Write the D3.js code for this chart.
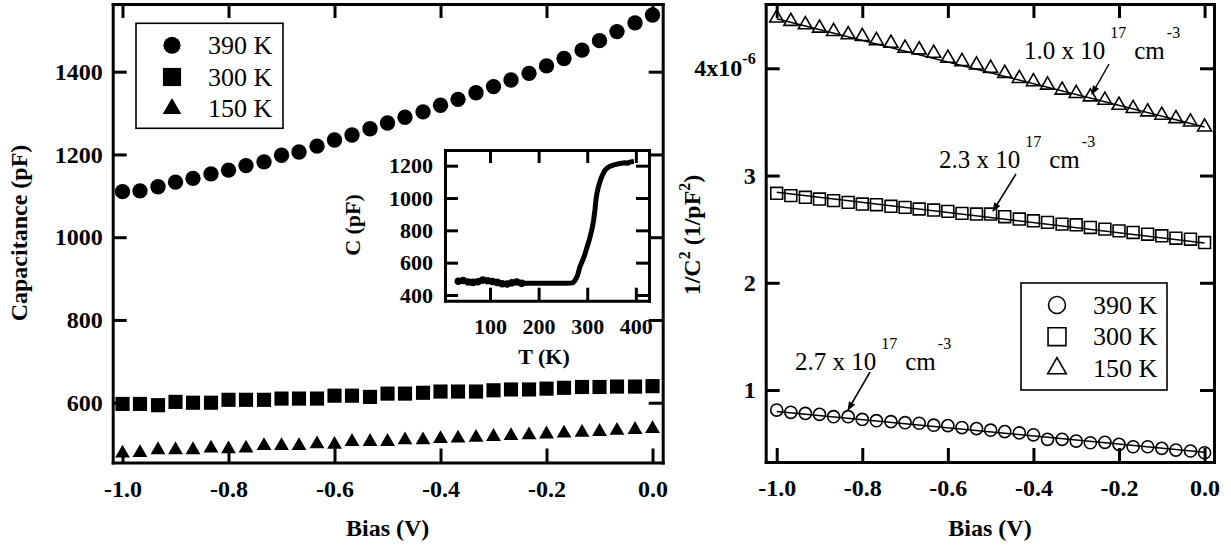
<!DOCTYPE html>
<html>
<head>
<meta charset="utf-8">
<script src="https://cdn.jsdelivr.net/npm/d3@7"></script>
<style>
  body { margin: 0; background: #fff; }
  svg, svg text { font-family: "Liberation Serif", "Times New Roman", serif; }
  .axis path, .axis line { stroke: #000; stroke-width: 3; }
  .axis path { stroke-linecap: square; }
</style>
</head>
<body>
<svg width="1231" height="546"></svg>
<script>
// bias points shared by every series (V)
const bias = [-1.000, -0.967, -0.933, -0.900, -0.867, -0.833, -0.800, -0.767, -0.733, -0.700,
              -0.667, -0.633, -0.600, -0.567, -0.533, -0.500, -0.467, -0.433, -0.400, -0.367,
              -0.333, -0.300, -0.267, -0.233, -0.200, -0.167, -0.133, -0.100, -0.067, -0.033, 0.000];

// capacitance (pF)
const cap390 = [1110, 1112, 1122, 1133, 1142, 1153, 1162, 1173, 1182, 1198,
                1206, 1220, 1235, 1247, 1262, 1276, 1290, 1303, 1319, 1333,
                1349, 1364, 1380, 1396, 1414, 1432, 1452, 1475, 1497, 1518, 1537];
const cap300 = [597, 597, 594, 602, 600, 600, 607, 607, 607, 610,
                610, 610, 617, 617, 614, 622, 622, 624, 627, 627,
                627, 630, 632, 632, 634, 636, 638, 638, 639, 639, 640];
const cap150 = [478, 479, 486, 486, 486, 490, 488, 490, 496, 496,
                496, 500, 499, 506, 506, 506, 510, 510, 513, 514,
                516, 518, 520, 522, 524, 526, 528, 530, 533, 535, 537];

// 1/C^2 (x10^-6 1/pF^2)
const inv390 = [0.813, 0.792, 0.782, 0.773, 0.751, 0.751, 0.726, 0.714, 0.705, 0.695,
                0.690, 0.672, 0.668, 0.650, 0.640, 0.625, 0.612, 0.600, 0.582, 0.540,
                0.540, 0.524, 0.508, 0.512, 0.493, 0.471, 0.471, 0.456, 0.440, 0.431, 0.415];
const inv300 = [2.834, 2.813, 2.797, 2.781, 2.766, 2.750, 2.734, 2.728, 2.713, 2.703,
                2.688, 2.678, 2.666, 2.647, 2.641, 2.641, 2.616, 2.594, 2.578, 2.563,
                2.547, 2.541, 2.516, 2.500, 2.484, 2.469, 2.453, 2.438, 2.416, 2.406, 2.375];
const inv150 = [4.469, 4.438, 4.406, 4.375, 4.344, 4.313, 4.297, 4.259, 4.234, 4.188,
                4.172, 4.141, 4.094, 4.063, 4.031, 4.000, 3.953, 3.906, 3.875, 3.844,
                3.797, 3.766, 3.734, 3.703, 3.656, 3.625, 3.594, 3.563, 3.531, 3.500, 3.453];

// linear fits: value at -1.0 V and at 0.0 V
const fitBias = [-1.0, 0.0];
const fit390 = [0.800, 0.420];
const fit300 = [2.845, 2.372];
const fit150 = [4.462, 3.452];

// inset C(T)
const insetT = [35, 45, 55, 65, 75, 85, 95, 105, 115, 125, 135, 145, 155, 165,
                180, 200, 220, 240, 260, 270, 275, 280, 285, 290, 295, 300, 305, 310,
                313, 316, 318, 320, 323, 327, 331, 336, 342, 348, 355, 362, 370, 378,
                383, 387, 392, 396];
const insetC = [485, 490, 480, 478, 482, 492, 488, 483, 478, 470, 468, 475, 480, 472,
                472, 472, 472, 472, 472, 475, 490, 520, 575, 610, 650, 700, 750, 810,
                860, 930, 990, 1030, 1070, 1110, 1140, 1170, 1188, 1198, 1205, 1210, 1215, 1218,
                1214, 1222, 1225, 1226];

const temps = ["390 K", "300 K", "150 K"];
const biasTicks = [-1.0, -0.8, -0.6, -0.4, -0.2, 0.0];
const capTicks = [600, 800, 1000, 1200, 1400];
const invTicks = [1, 2, 3, 4];
const tTicks = [100, 200, 300, 400];
const cTicks = [400, 600, 800, 1000, 1200];

const notes = [
  {text: "1.0 x 10", sup: "17", x: 1024, y: 59, from: [1109, 64], to: [1092, 94]},
  {text: "2.3 x 10", sup: "17", x: 939, y: 168, from: [1016, 174], to: [993, 211]},
  {text: "2.7 x 10", sup: "17", x: 795, y: 370, from: [870, 372], to: [848, 410]}
];

const serif = "'Liberation Serif', 'Times New Roman', serif";

const svg = d3.select("svg");
svg.append("rect").attr("width", 1231).attr("height", 546).attr("fill", "#fff");

const defs = svg.append("defs");
defs.append("marker")
    .attr("id", "arrow")
    .attr("viewBox", "0 0 10 10")
    .attr("refX", 9).attr("refY", 5)
    .attr("markerWidth", 10).attr("markerHeight", 9)
    .attr("markerUnits", "userSpaceOnUse")
    .attr("orient", "auto")
  .append("path")
    .attr("d", "M0,1 L10,5 L0,9 Z")
    .attr("fill", "#000");

const fmt1 = d => d.toFixed(1);

function styleAxis(g, fs) {
  g.attr("font-family", serif).attr("font-size", fs);
  g.selectAll("text")
      .style("font-family", serif)
      .style("font-weight", "bold")
      .style("font-size", fs + "px")
      .attr("fill", "#000");
  g.select(".domain").attr("fill", "none");
}

function frame(x, y, xt, yt, opts) {
  const tk = opts.tick || 14;
  const fs = opts.fontSize || 24;
  const [x0, x1] = x.range();
  const [y0, y1] = y.range();

  svg.append("g").attr("class", "axis")
      .attr("transform", `translate(0,${y0})`)
      .call(d3.axisBottom(x).tickValues(xt).tickSize(-tk).tickSizeOuter(0)
            .tickPadding(opts.xPad).tickFormat(opts.xFormat))
      .call(styleAxis, fs);
  svg.append("g").attr("class", "axis")
      .attr("transform", `translate(0,${y1})`)
      .call(d3.axisTop(x).tickValues(xt).tickSize(-tk).tickSizeOuter(0).tickFormat(""))
      .call(styleAxis, fs);
  const left = svg.append("g").attr("class", "axis")
      .attr("transform", `translate(${x0},0)`)
      .call(d3.axisLeft(y).tickValues(yt).tickSize(-tk).tickSizeOuter(0)
            .tickPadding(opts.yPad).tickFormat(opts.yFormat))
      .call(styleAxis, fs);
  svg.append("g").attr("class", "axis")
      .attr("transform", `translate(${x1},0)`)
      .call(d3.axisRight(y).tickValues(yt).tickSize(-tk).tickSizeOuter(0).tickFormat(""))
      .call(styleAxis, fs);
  return left;
}

function scatter(x, y, xs, ys, sym, size, filled) {
  const g = svg.append("g");
  g.selectAll("path")
    .data(xs.map((v, i) => [v, ys[i]]))
    .join("path")
      .attr("transform", d => `translate(${x(d[0])},${y(d[1])})`)
      .attr("d", d3.symbol(sym, size))
      .attr("fill", filled ? "#000" : "none")
      .attr("stroke", filled ? "none" : "#000")
      .attr("stroke-width", 1.6);
}

function legend(bx, by, bw, bh, rows, syms, filled) {
  svg.append("rect")
      .attr("x", bx).attr("y", by).attr("width", bw).attr("height", bh)
      .attr("fill", "#fff").attr("stroke", "#000").attr("stroke-width", 1.6);
  rows.forEach((r, i) => {
    const cy = by + 22 + i * 31.7;
    svg.append("path")
        .attr("transform", `translate(${bx + 36},${cy})`)
        .attr("d", d3.symbol(syms[i][0], syms[i][1]))
        .attr("fill", filled ? "#000" : "none")
        .attr("stroke", filled ? "none" : "#000")
        .attr("stroke-width", 1.6);
    svg.append("text")
        .attr("x", bx + 72).attr("y", cy + 8.5)
        .attr("font-size", 26)
        .text(r);
  });
}

// ---------- left panel ----------
const xL = d3.scaleLinear().domain([-1.0185, 0.0192]).range([112.7, 662.7]);
const yL = d3.scaleLinear().domain([455.5, 1563.6]).range([462.5, 4]);

scatter(xL, yL, bias, cap150, d3.symbolTriangle, 95, true);
scatter(xL, yL, bias, cap300, d3.symbolSquare, 200, true);
scatter(xL, yL, bias, cap390, d3.symbolCircle, 185, true);

frame(xL, yL, biasTicks, capTicks, {xPad: 17, yPad: 10, xFormat: fmt1, yFormat: d3.format("d")});

legend(136, 23.3, 147, 105, temps,
       [[d3.symbolCircle, 230], [d3.symbolSquare, 330], [d3.symbolTriangle, 150]], true);

svg.append("text")
    .attr("x", 387.7).attr("y", 536)
    .attr("text-anchor", "middle").attr("font-size", 24).attr("font-weight", "bold")
    .text("Bias (V)");
svg.append("text")
    .attr("transform", "translate(27,233) rotate(-90)")
    .attr("text-anchor", "middle").attr("font-size", 24).attr("font-weight", "bold")
    .text("Capacitance (pF)");

// ---------- inset ----------
const xI = d3.scaleLinear().domain([7.5, 427]).range([445, 649]);
const yI = d3.scaleLinear().domain([364.7, 1297]).range([300.7, 150]);

svg.append("rect").attr("x", 445).attr("y", 150).attr("width", 204).attr("height", 150.7)
    .attr("fill", "#fff");
svg.append("path")
    .datum(insetT.map((t, i) => [t, insetC[i]]))
    .attr("fill", "none").attr("stroke", "#000").attr("stroke-width", 5)
    .attr("stroke-linejoin", "round")
    .attr("d", d3.line().x(d => xI(d[0])).y(d => yI(d[1])));
scatter(xI, yI, insetT.slice(0, 14), insetC.slice(0, 14), d3.symbolCircle, 45, true);

frame(xI, yI, tTicks, cTicks, {xPad: 18, yPad: 12, fontSize: 22, tick: 13,
      xFormat: d3.format("d"), yFormat: d3.format("d")});

svg.append("text")
    .attr("x", 544).attr("y", 364)
    .attr("text-anchor", "middle").attr("font-size", 22).attr("font-weight", "bold")
    .text("T (K)");
svg.append("text")
    .attr("transform", "translate(360,225) rotate(-90)")
    .attr("text-anchor", "middle").attr("font-size", 22).attr("font-weight", "bold")
    .text("C (pF)");

// ---------- right panel ----------
const xR = d3.scaleLinear().domain([-1.0257, 0.022]).range([765.7, 1214]);
const yR = d3.scaleLinear().domain([0.3286, 4.5997]).range([462, 4]);

const fitLine = d3.line().x(d => xR(d[0])).y(d => yR(d[1]));
[fit390, fit300, fit150].forEach(f => {
  svg.append("path")
      .datum(fitBias.map((b, i) => [b, f[i]]))
      .attr("fill", "none").attr("stroke", "#000").attr("stroke-width", 1.5)
      .attr("d", fitLine);
});

scatter(xR, yR, bias, inv390, d3.symbolCircle, 115, false);
scatter(xR, yR, bias, inv300, d3.symbolSquare, 140, false);
scatter(xR, yR, bias, inv150, d3.symbolTriangle, 85, false);

const leftR = frame(xR, yR, biasTicks, invTicks, {xPad: 17, yPad: 10, xFormat: fmt1, yFormat: d3.format("d")});
leftR.selectAll(".tick text").filter(d => d === 4)
    .text(null)
    .call(t => {
      t.append("tspan").text("4x10");
      t.append("tspan").style("font-size", "16px").attr("dy", "-0.75em").text("-6");
    });

legend(1021, 283, 146, 107, temps,
       [[d3.symbolCircle, 225], [d3.symbolSquare, 320], [d3.symbolTriangle, 150]], false);

svg.append("text")
    .attr("x", 990).attr("y", 536)
    .attr("text-anchor", "middle").attr("font-size", 24).attr("font-weight", "bold")
    .text("Bias (V)");
const yLab = svg.append("text")
    .attr("transform", "translate(700,235) rotate(-90)")
    .attr("text-anchor", "middle").attr("font-size", 24).attr("font-weight", "bold");
yLab.append("tspan").text("1/C");
yLab.append("tspan").attr("font-size", 16).attr("dy", -10).text("2");
yLab.append("tspan").attr("dy", 10).text(" (1/pF");
yLab.append("tspan").attr("font-size", 16).attr("dy", -10).text("2");
yLab.append("tspan").attr("dy", 10).text(")");

// annotations
notes.forEach(n => {
  const t = svg.append("text").attr("x", n.x).attr("y", n.y).attr("font-size", 25);
  t.append("tspan").text(n.text);
  t.append("tspan").attr("font-size", 16).attr("dx", 5).attr("dy", -21).text(n.sup);
  t.append("tspan").attr("font-size", 25).attr("dx", 8).attr("dy", 21).text("cm");
  t.append("tspan").attr("font-size", 16).attr("dx", 2).attr("dy", -21).text("-3");
  svg.append("line")
      .attr("x1", n.from[0]).attr("y1", n.from[1])
      .attr("x2", n.to[0]).attr("y2", n.to[1])
      .attr("stroke", "#000").attr("stroke-width", 1.5)
      .attr("marker-end", "url(#arrow)");
});
</script>
</body>
</html>
